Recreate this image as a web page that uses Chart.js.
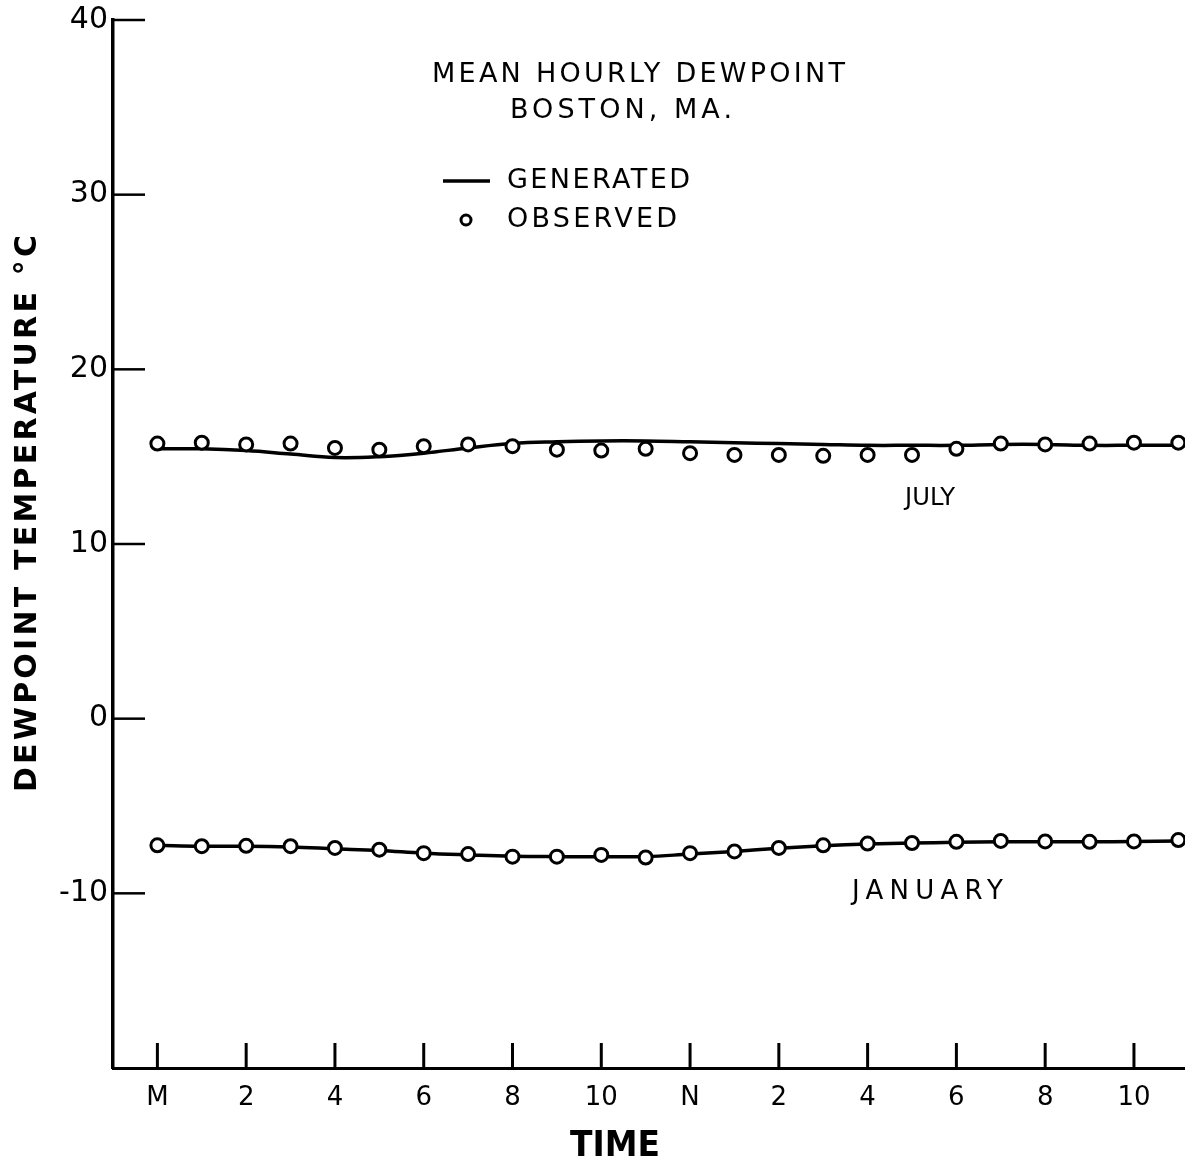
<!DOCTYPE html>
<html>
<head>
<meta charset="utf-8">
<script src="https://cdn.jsdelivr.net/npm/chart.js@4.4.1/dist/chart.umd.min.js"></script>
<style>
  html, body { margin: 0; padding: 0; background: #fff; }
  #wrap { width: 1185px; height: 1167px; position: relative; }
</style>
</head>
<body>
<div id="wrap"><canvas id="dewpoint"></canvas></div>
<script>
// hours after midnight
var hours = [0, 1, 2, 3, 4, 5, 6, 7, 8, 9, 10, 11, 12, 13, 14, 15, 16, 17, 18, 19, 20, 21, 22, 23];

// July, deg C
var julyObserved  = [15.75, 15.8, 15.7, 15.75, 15.5, 15.4, 15.6, 15.7, 15.6, 15.4, 15.35, 15.45,
                     15.2, 15.1, 15.1, 15.05, 15.1, 15.1, 15.45, 15.75, 15.7, 15.75, 15.8, 15.8];
var julyGenerated = [15.45, 15.45, 15.35, 15.15, 14.95, 15.0, 15.2, 15.5, 15.75, 15.85, 15.9, 15.9,
                     15.85, 15.8, 15.75, 15.7, 15.65, 15.65, 15.65, 15.7, 15.7, 15.65, 15.65, 15.65];

// January, deg C
var janObserved  = [-7.25, -7.3, -7.28, -7.3, -7.4, -7.5, -7.7, -7.75, -7.9, -7.9, -7.8, -7.95,
                    -7.7, -7.6, -7.4, -7.25, -7.15, -7.12, -7.05, -7.0, -7.03, -7.05, -7.03, -6.95];
var janGenerated = [-7.25, -7.3, -7.3, -7.35, -7.45, -7.55, -7.7, -7.8, -7.88, -7.9, -7.9, -7.9,
                    -7.75, -7.6, -7.42, -7.28, -7.18, -7.12, -7.08, -7.05, -7.05, -7.05, -7.03, -7.0];

// x tick labels at even hours
var xTickHours  = [0, 2, 4, 6, 8, 10, 12, 14, 16, 18, 20, 22];
var xTickLabels = ["M", "2", "4", "6", "8", "10", "N", "2", "4", "6", "8", "10"];
var yTickValues = [40, 30, 20, 10, 0, -10];

function pts(vals) {
    return hours.map(function (h, i) { return { x: h, y: vals[i] }; });
}

var FONT = "'DejaVu Sans', 'Liberation Sans', sans-serif";

function observedSet(label, vals) {
    return {
        label: label,
        data: pts(vals),
        showLine: false,
        pointStyle: "circle",
        pointRadius: 6.5,
        pointBorderWidth: 3,
        pointBorderColor: "#000",
        pointBackgroundColor: "#fff",
        clip: false,
        order: 0
    };
}
function generatedSet(label, vals) {
    return {
        label: label,
        data: pts(vals),
        borderColor: "#000",
        borderWidth: 3.5,
        pointRadius: 0,
        tension: 0.4,
        fill: false,
        order: 1
    };
}

// text stretched / spaced to a given width, starting at x (left aligned)
function fitText(c, text, x, y, font, width) {
    c.save();
    c.font = font;
    c.letterSpacing = "0px";
    c.textAlign = "left";
    c.textBaseline = "middle";
    var w = c.measureText(text).width;
    var n = text.length;
    if (w < width) {
        var s = (width - w) / (n - 1);
        c.letterSpacing = s + "px";
        c.fillText(text, x, y);
    } else {
        c.translate(x, y);
        c.scale(width / w, 1);
        c.fillText(text, 0, 0);
    }
    c.restore();
}

// inward tick marks and free text
var decor = {
    id: "decor",
    afterDraw: function (chart) {
        var c = chart.ctx, xs = chart.scales.x, ys = chart.scales.y;
        var a = chart.chartArea;
        c.save();
        c.strokeStyle = "#000";
        c.fillStyle = "#000";
        c.lineCap = "butt";

        // y ticks pointing right
        c.lineWidth = 2.5;
        yTickValues.forEach(function (v) {
            var py = ys.getPixelForValue(v);
            c.beginPath(); c.moveTo(a.left, py); c.lineTo(a.left + 32, py); c.stroke();
        });
        // x ticks pointing up
        c.lineWidth = 3;
        xTickHours.forEach(function (h) {
            var px = xs.getPixelForValue(h);
            c.beginPath(); c.moveTo(px, a.bottom); c.lineTo(px, a.bottom - 25); c.stroke();
        });

        var F = "27px " + FONT;
        fitText(c, "MEAN HOURLY DEWPOINT", 432, 75, F, 413);
        fitText(c, "BOSTON, MA.", 510, 111, F, 222);
        fitText(c, "GENERATED", 507, 181, F, 183);
        fitText(c, "OBSERVED", 507, 220, F, 170);
        fitText(c, "JULY", 905, 498, "25px " + FONT, 50);
        fitText(c, "JANUARY", 852, 892, "26px " + FONT, 151);

        // legend marks
        c.lineWidth = 3.5;
        c.beginPath(); c.moveTo(443, 181); c.lineTo(490, 181); c.stroke();
        c.lineWidth = 3;
        c.beginPath(); c.arc(466, 220, 5, 0, Math.PI * 2);
        c.fillStyle = "#fff"; c.fill(); c.stroke();
        c.fillStyle = "#000";

        // axis titles
        fitText(c, "TIME", 570, 1147, "bold 36px " + FONT, 90);
        c.translate(28, 792);
        c.rotate(-Math.PI / 2);
        fitText(c, "DEWPOINT TEMPERATURE °C", 0, 0, "bold 30px " + FONT, 557);
        c.restore();
    }
};

var ctx = document.getElementById("dewpoint").getContext("2d");
var chart = new Chart(ctx, {
    type: "line",
    data: {
        datasets: [
            generatedSet("July generated", julyGenerated),
            observedSet("July observed", julyObserved),
            generatedSet("January generated", janGenerated),
            observedSet("January observed", janObserved)
        ]
    },
    options: {
        responsive: true,
        maintainAspectRatio: false,
        animation: false,
        layout: { autoPadding: false, padding: { top: 20, right: 0, left: 0, bottom: 0 } },
        plugins: { legend: { display: false }, tooltip: { enabled: false } },
        scales: {
            x: {
                type: "linear",
                min: -1,
                max: 23.15,
                afterFit: function (s) { s.height = 99; s.paddingLeft = 0; s.paddingRight = 0; },
                afterBuildTicks: function (s) {
                    s.ticks = xTickHours.map(function (h) { return { value: h }; });
                },
                grid: { display: false, drawTicks: false, tickLength: 0 },
                border: { display: true, color: "#000", width: 3 },
                ticks: {
                    color: "#000",
                    font: { family: FONT, size: 26 },
                    padding: 15,
                    maxRotation: 0,
                    autoSkip: false,
                    callback: function (v) {
                        var i = xTickHours.indexOf(v);
                        return i >= 0 ? xTickLabels[i] : "";
                    }
                }
            },
            y: {
                min: -20,
                max: 40,
                afterFit: function (s) { s.width = 113; s.paddingTop = 0; s.paddingBottom = 0; },
                afterBuildTicks: function (s) {
                    s.ticks = yTickValues.map(function (v) { return { value: v }; });
                },
                grid: { display: false, drawTicks: false, tickLength: 0 },
                border: { display: true, color: "#000", width: 3.5 },
                ticks: {
                    color: "#000",
                    font: { family: FONT, size: 30 },
                    padding: 5,
                    callback: function (v) { return String(v); }
                }
            }
        }
    },
    plugins: [decor]
});
</script>
</body>
</html>
